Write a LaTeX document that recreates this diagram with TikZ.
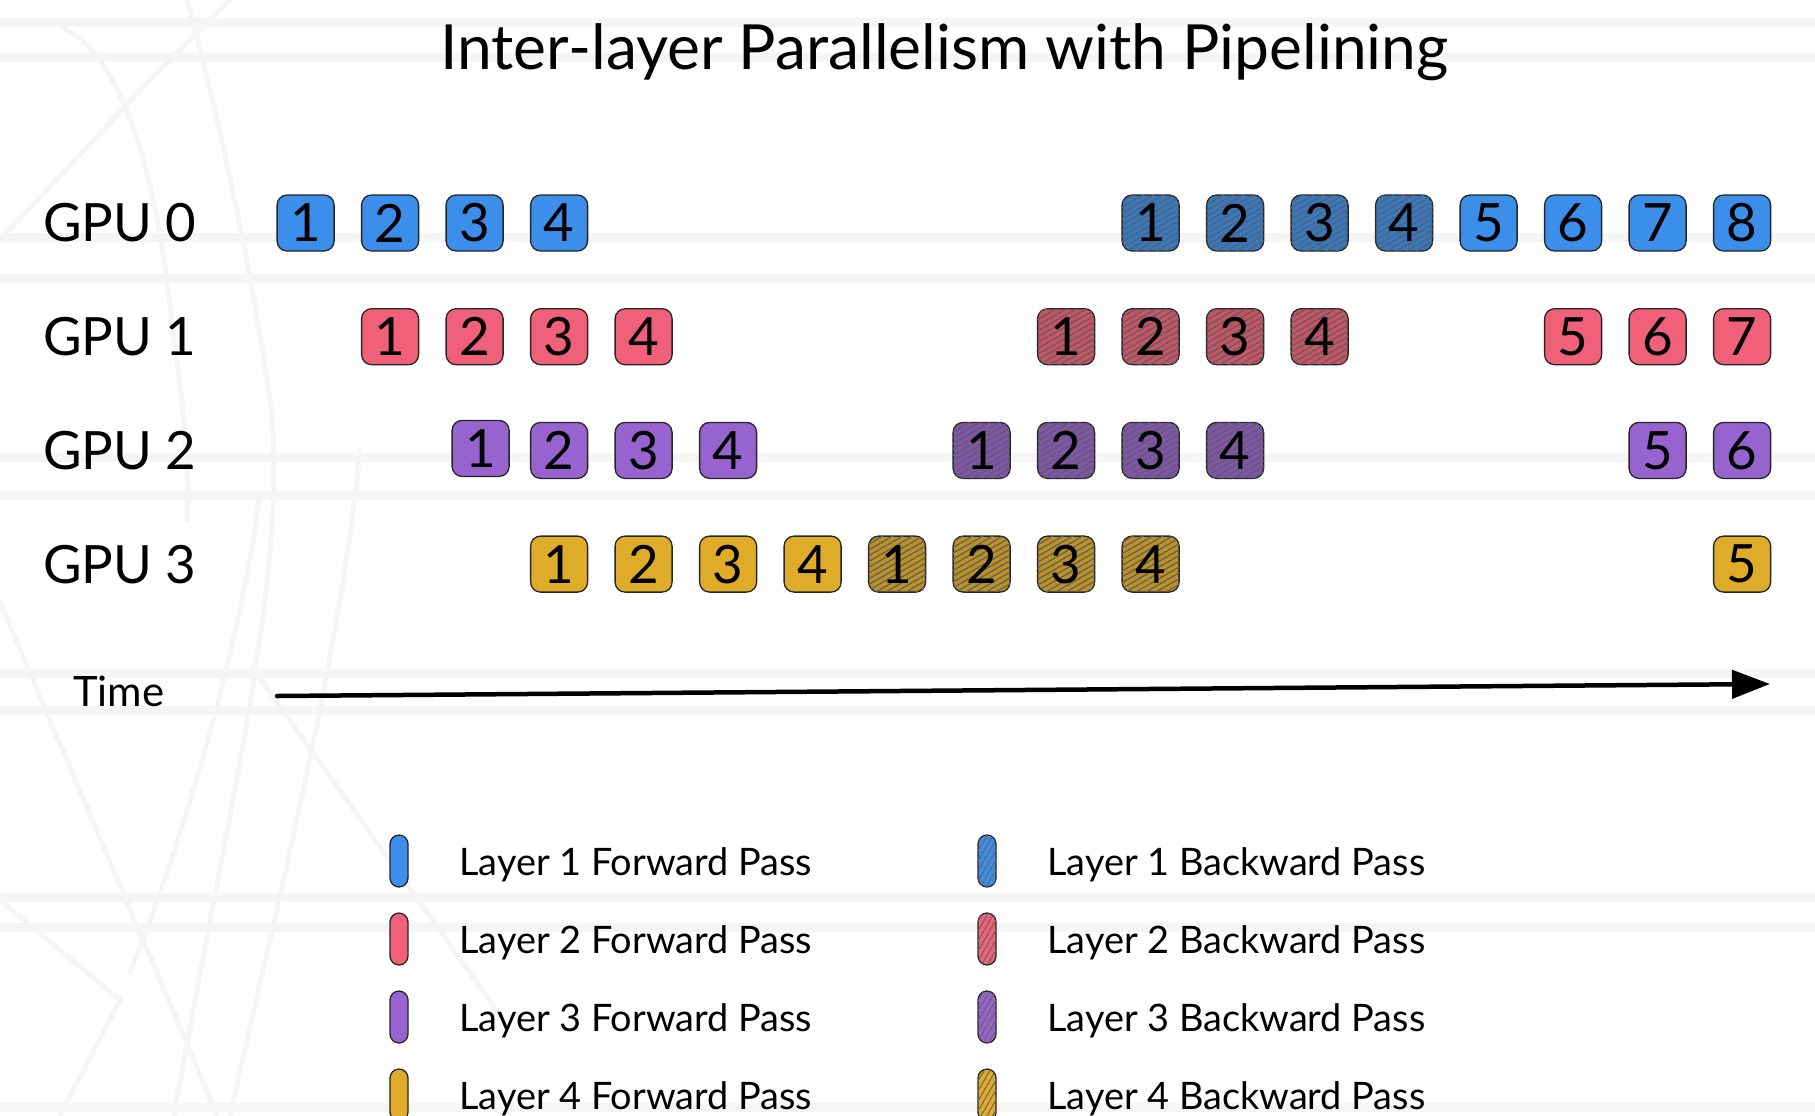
\documentclass[tikz,border=0pt]{standalone}
\usepackage{fontspec}
\setmainfont{Lato}
\usetikzlibrary{patterns.meta,arrows.meta}
\definecolor{cA}{RGB}{59,142,234}
\definecolor{cB}{RGB}{240,96,120}
\definecolor{cC}{RGB}{151,99,206}
\definecolor{cD}{RGB}{222,172,40}
\definecolor{bgline}{RGB}{245,245,245}
\tikzset{
  blk/.style={draw=black!85, line width=1.3bp, rounded corners=10bp,
    minimum width=57bp, minimum height=56bp, inner sep=0pt,
    font=\fontsize{53}{53}\selectfont},
  fwdbox/.style={blk, fill=#1},
  bwdbox/.style={blk, fill=#1!85!black,
    postaction={pattern={Lines[angle=30,distance=5bp,line width=1.3bp]}, pattern color=gray!75!black}},
  pill/.style={draw=black!85, line width=1.3bp, rounded corners=9bp,
    minimum width=18bp, minimum height=52bp, inner sep=0pt},
  fwdpill/.style={pill, fill=#1},
  bwdpill/.style={pill, fill=#1,
    postaction={pattern={Lines[angle=60,distance=5bp,line width=1bp]}, pattern color=gray!80!black}},
  gpulab/.style={anchor=west, inner sep=0pt, font=\fontsize{53}{53}\selectfont},
  legtext/.style={anchor=base west, inner sep=0pt, font=\fontsize{38}{38}\selectfont},
  faint/.style={draw=black!4, line width=5bp, line cap=round, line join=round}
}
\begin{document}
\begin{tikzpicture}[x=1bp, y=-1bp]
\useasboundingbox (0,0) rectangle (1815,1115);
\fill[white] (0,0) rectangle (1815,1115);
% background decoration
\foreach \yy in {22,57,237,278,457,495,673,710,897,927,1107}
  \draw[bgline, line width=9bp] (0,\yy) -- (1815,\yy);
\draw[faint] (63,28) .. controls (130,60) and (160,200) .. (173,333) .. controls (185,420) and (190,470) .. (187,520);
\draw[faint] (187,0) .. controls (215,100) and (250,260) .. (270,400) .. controls (290,560) and (230,800) .. (174,1115);
\draw[faint] (360,450) .. controls (340,650) and (290,850) .. (230,1115);
\draw[faint] (260,493) .. controls (240,650) and (180,850) .. (130,972);
\draw[faint] (0,602) -- (217,1115);
\draw[faint] (252,667) -- (500,1015);
\draw[faint] (0,240) -- (150,80) -- (230,0);
\draw[faint] (0,900) -- (120,1000) -- (60,1115);

% title
\node[anchor=base, inner sep=0pt, font=\fontsize{62.5}{63}\selectfont] (title) at (944.5,69) {Inter-layer Parallelism with Pipelining};

% GPU labels
\foreach \r in {0,...,3}
  \node[gpulab] (gpu\r) at (43,{223+113.7*\r}) {GPU \r};

% schedule boxes
\foreach \r/\c in {0/cA,1/cB,2/cC,3/cD}{
  \foreach \i in {1,...,4}{
    \node[fwdbox=\c] (g\r-f\i) at ({305.6+84.5*(\r+\i-1)+(\r==2)*(\i==1)*6},{223+113.7*\r-(\r==2)*(\i==1)*2}) {\i};
    \node[bwdbox=\c] (g\r-b\i) at ({305.6+84.5*(9-\r+\i)},{223+113.7*\r}) {\i};
  }
  \pgfmathtruncatemacro{\last}{8-\r}
  \foreach \i in {5,...,\last}{
    \node[fwdbox=\c] (g\r-f\i) at ({305.6+84.5*(9+\r+\i)},{223+113.7*\r}) {\i};
  }
}

% time axis
\node[anchor=west, inner sep=0pt, font=\fontsize{42}{42}\selectfont] (time) at (73,691) {Time};
\coordinate (ts) at (277,696);
\coordinate (te) at (1770,684);
\draw[line width=4.5bp, line cap=round, -{Triangle[length=38bp,width=28bp]}] (ts) -- (te);

% legend
\foreach \j/\c in {1/cA,2/cB,3/cC,4/cD}{
  \node[fwdpill=\c] (lf\j) at (399,{861+78*(\j-1)}) {};
  \node[legtext] (lft\j) at (459,{875+78*(\j-1)}) {Layer \j\ Forward Pass};
  \node[bwdpill=\c] (lb\j) at (987,{861+78*(\j-1)}) {};
  \node[legtext] (lbt\j) at (1047,{875+78*(\j-1)}) {Layer \j\ Backward Pass};
}
\end{tikzpicture}
\end{document}
